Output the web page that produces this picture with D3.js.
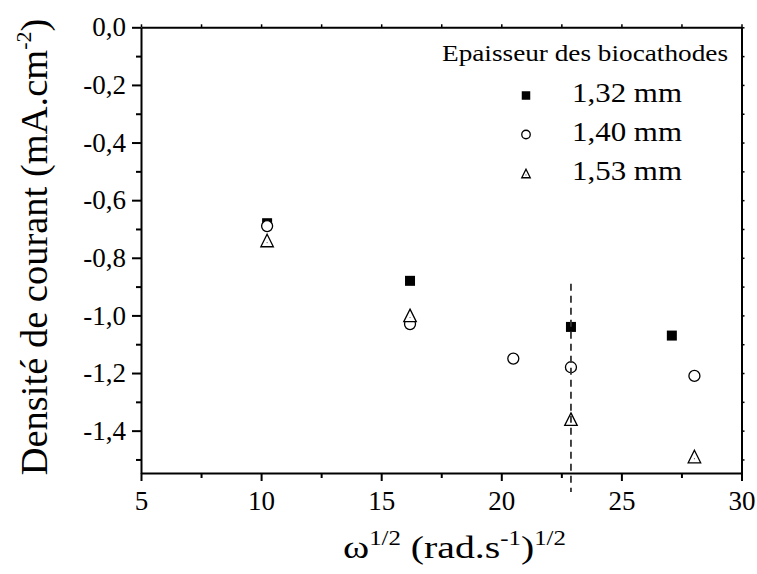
<!DOCTYPE html>
<html>
<head>
<meta charset="utf-8">
<script src="https://cdn.jsdelivr.net/npm/d3@7"></script>
<style>
  html, body { margin: 0; padding: 0; background: #fff; }
  svg { display: block; font-family: "Liberation Serif", "Times New Roman", serif; }
  svg text { font-family: "Liberation Serif", "Times New Roman", serif; }
</style>
</head>
<body>
<svg id="chart" width="757" height="574"></svg>
<script>
// Current density vs square root of rotation speed, for three biocathode thicknesses
const seriesNames = ["1,32 mm", "1,40 mm", "1,53 mm"];
const seriesSymbols = ["square", "circle", "triangle"];

const squareX = [10.25, 16.2, 22.9, 27.1];
const squareY = [-0.68, -0.88, -1.04, -1.07];

const circleX = [10.25, 16.2, 20.5, 22.9, 28.04];
const circleY = [-0.69, -1.03, -1.15, -1.18, -1.21];

const triangleX = [10.25, 16.2, 22.9, 28.04];
const triangleY = [-0.74, -1.00, -1.36, -1.49];

// vertical reference line
const refLineX = 22.9;
const refLineY = [-0.89, -1.613];

const xMajorTicks = [5, 10, 15, 20, 25, 30];
const xMinorTicks = [7.5, 12.5, 17.5, 22.5, 27.5];
const yMajorTicks = [0, -0.2, -0.4, -0.6, -0.8, -1.0, -1.2, -1.4];
const yMinorTicks = [-0.1, -0.3, -0.5, -0.7, -0.9, -1.1, -1.3, -1.5];

const svg = d3.select("#chart");
const plotLeft = 141, plotRight = 741.5, plotTop = 27.3, plotBottom = 473;
const serif = "'Liberation Serif', 'Times New Roman', serif";

const x = d3.scaleLinear().domain([5, 30]).range([plotLeft, plotRight]);
const y = d3.scaleLinear().domain([-1.547, 0]).range([plotBottom, plotTop]);

const fmt = v => d3.format(".1f")(v).replace(".", ",").replace("\u2212", "-");

function styleAxis(g, width) {
  g.attr("font-family", serif);
  g.select(".domain").attr("stroke", "#000").attr("stroke-width", width);
  g.selectAll(".tick line").attr("stroke", "#000").attr("stroke-width", 2);
}

// minor ticks first (shorter)
svg.append("g").attr("transform", `translate(0,${plotBottom})`)
  .call(d3.axisBottom(x).tickValues(xMinorTicks).tickSize(5).tickFormat(""))
  .call(g => { g.select(".domain").remove(); g.selectAll(".tick line").attr("stroke", "#000").attr("stroke-width", 2); });
svg.append("g").attr("transform", `translate(${plotLeft},0)`)
  .call(d3.axisLeft(y).tickValues(yMinorTicks).tickSize(5).tickFormat(""))
  .call(g => { g.select(".domain").remove(); g.selectAll(".tick line").attr("stroke", "#000").attr("stroke-width", 2); });

// top and right mirror axes with small ticks
svg.append("g").attr("transform", `translate(0,${plotTop})`)
  .call(d3.axisTop(x).tickValues(xMajorTicks.concat(xMinorTicks)).tickSize(3).tickSizeOuter(0).tickFormat(""))
  .call(g => { styleAxis(g, 2); g.selectAll(".tick line").attr("stroke-width", 1.5); });
svg.append("g").attr("transform", `translate(${plotRight},0)`)
  .call(d3.axisRight(y).tickValues(yMajorTicks.concat(yMinorTicks)).tickSize(3).tickSizeOuter(0).tickFormat(""))
  .call(g => { styleAxis(g, 2); g.selectAll(".tick line").attr("stroke-width", 1.5); });

// main bottom axis
svg.append("g").attr("transform", `translate(0,${plotBottom})`)
  .call(d3.axisBottom(x).tickValues(xMajorTicks).tickSize(8).tickSizeOuter(0).tickPadding(10).tickFormat(d3.format("d")))
  .call(g => {
    styleAxis(g, 2);
    g.selectAll("text").attr("fill", "#000").attr("font-size", 27);
  });

// main left axis
svg.append("g").attr("transform", `translate(${plotLeft},0)`)
  .call(d3.axisLeft(y).tickValues(yMajorTicks).tickSize(9).tickSizeOuter(0).tickPadding(6).tickFormat(fmt))
  .call(g => {
    styleAxis(g, 2);
    g.selectAll("text").attr("fill", "#000").attr("font-size", 27);
  });

// markers
const plot = svg.append("g");
function drawSymbol(g, type, cx, cy, s) {
  if (type === "square") {
    g.append("rect").attr("x", cx - s / 2).attr("y", cy - s / 2).attr("width", s).attr("height", s)
      .attr("fill", "#000");
  } else if (type === "circle") {
    g.append("circle").attr("cx", cx).attr("cy", cy).attr("r", s / 2)
      .attr("fill", "#fff").attr("stroke", "#000").attr("stroke-width", 1.3);
  } else {
    const h = s;
    const pts = [[cx, cy - h / 2], [cx + s / 2, cy + h / 2], [cx - s / 2, cy + h / 2]];
    g.append("polygon").attr("points", pts.map(p => p.join(",")).join(" "))
      .attr("fill", "#fff").attr("stroke", "#000").attr("stroke-width", 1.3);
    g.append("circle").attr("cx", cx).attr("cy", cy + h / 6).attr("r", 0.6).attr("fill", "#555");
  }
}
squareX.forEach((v, i) => drawSymbol(plot, "square", x(v), y(squareY[i]), 10));
circleX.forEach((v, i) => drawSymbol(plot, "circle", x(v), y(circleY[i]), 11));
triangleX.forEach((v, i) => drawSymbol(plot, "triangle", x(v), y(triangleY[i]), 12.5));

// dashed reference line
svg.append("line")
  .attr("x1", x(refLineX)).attr("x2", x(refLineX))
  .attr("y1", y(refLineY[0])).attr("y2", y(refLineY[1]))
  .attr("stroke", "#333").attr("stroke-width", 1.8).attr("stroke-dasharray", "7,5");

// legend
const legend = svg.append("g");
legend.append("text").attr("x", 442).attr("y", 61)
  .attr("font-size", 24).attr("textLength", 286).attr("lengthAdjust", "spacingAndGlyphs")
  .text("Epaisseur des biocathodes");
const legendRows = [102, 141, 180];
seriesNames.forEach((name, i) => {
  drawSymbol(legend, seriesSymbols[i], 526, legendRows[i] - 6.5, 8.5);
  legend.append("text").attr("x", 572).attr("y", legendRows[i])
    .attr("font-size", 28).attr("textLength", 110).attr("lengthAdjust", "spacingAndGlyphs")
    .text(name);
});

// x axis title, stretched horizontally to its box
const xtG = svg.append("g");
const xt = xtG.append("text").attr("x", 0).attr("y", 0).attr("font-size", 32);
xt.append("tspan").text("\u03c9");
xt.append("tspan").attr("font-size", 20).attr("dy", -13).text("1/2");
xt.append("tspan").attr("dy", 13).text(" (rad.s");
xt.append("tspan").attr("font-size", 20).attr("dy", -13).text("-1");
xt.append("tspan").attr("dy", 13).text(")");
xt.append("tspan").attr("font-size", 20).attr("dy", -13).text("1/2");
const xtW = xt.node().getComputedTextLength();
const xtTarget = 223;
xtG.attr("transform", `translate(343,558) scale(${xtTarget / xtW},1)`);

// y axis title
const yt = svg.append("text").attr("transform", "translate(47,247) rotate(-90)")
  .attr("text-anchor", "middle").attr("font-size", 38.5);
yt.append("tspan").text("Densit\u00e9 de courant (mA.cm");
yt.append("tspan").attr("font-size", 22).attr("dy", -16).text("-2");
yt.append("tspan").attr("dy", 16).text(")");
</script>
</body>
</html>
